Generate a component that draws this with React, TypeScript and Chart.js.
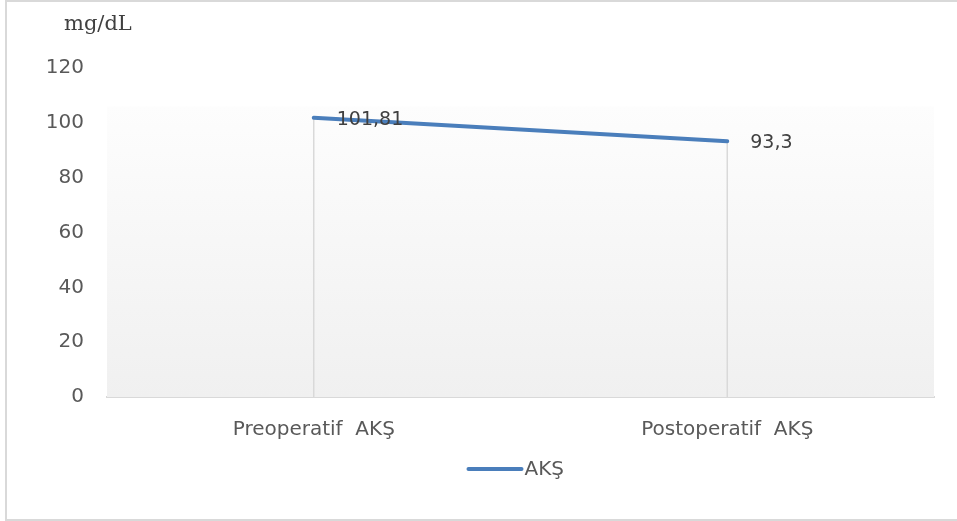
import React, { useEffect, useRef } from "react";
import { Chart, registerables } from "chart.js";

Chart.register(...registerables);

const categories = ["Preoperatif  AKŞ", "Postoperatif  AKŞ"];
const seriesName = "AKŞ";
const values = [101.81, 93.3];
const valueLabels = ["101,81", "93,3"];
const yTicks = [0, 20, 40, 60, 80, 100, 120];
const unitLabel = "mg/dL";

const LINE_COLOR = "#4a7ebb";
const TEXT_COLOR = "#595959";
const FONT = "'DejaVu Sans', sans-serif";

export default function App() {
  const ref = useRef<HTMLCanvasElement | null>(null);

  useEffect(() => {
    const canvas = ref.current;
    if (!canvas) return;

    const decor = {
      id: "decor",
      beforeDraw(chart: any) {
        const ctx = chart.ctx;
        ctx.save();
        ctx.fillStyle = "#ffffff";
        ctx.fillRect(0, 0, chart.width, chart.height);
        ctx.strokeStyle = "#d9d9d9";
        ctx.lineWidth = 2;
        ctx.strokeRect(6, 1, chart.width + 10, chart.height - 2);
        ctx.restore();
      },
      beforeDatasetsDraw(chart: any) {
        const { ctx, chartArea } = chart;
        const y = chart.scales.y;
        const top = y.getPixelForValue(106);
        ctx.save();
        const g = ctx.createLinearGradient(0, top, 0, chartArea.bottom);
        g.addColorStop(0, "#fdfdfd");
        g.addColorStop(1, "#f0f0f0");
        ctx.fillStyle = g;
        ctx.fillRect(chartArea.left, top, chartArea.right - chartArea.left, chartArea.bottom - top);
        // drop lines
        const meta = chart.getDatasetMeta(0);
        ctx.strokeStyle = "#d9d9d9";
        ctx.lineWidth = 1.5;
        meta.data.forEach((pt: any) => {
          ctx.beginPath();
          ctx.moveTo(pt.x, pt.y);
          ctx.lineTo(pt.x, chartArea.bottom);
          ctx.stroke();
        });
        ctx.restore();
      },
      afterDatasetsDraw(chart: any) {
        const { ctx, chartArea } = chart;
        const meta = chart.getDatasetMeta(0);
        ctx.save();
        ctx.fillStyle = "#404040";
        ctx.font = `19px ${FONT}`;
        ctx.textAlign = "left";
        ctx.textBaseline = "middle";
        meta.data.forEach((pt: any, i: number) => {
          ctx.fillText(valueLabels[i], pt.x + 23, pt.y + 2);
        });
        // unit label
        ctx.fillStyle = "#404040";
        ctx.font = "21px 'DejaVu Serif', serif";
        ctx.textAlign = "left";
        ctx.fillText(unitLabel, chartArea.left - 43, 25);
        // legend
        const cx = (chartArea.left + chartArea.right) / 2;
        const ly = 469;
        ctx.strokeStyle = LINE_COLOR;
        ctx.lineWidth = 4;
        ctx.lineCap = "round";
        ctx.beginPath();
        ctx.moveTo(cx - 52, ly);
        ctx.lineTo(cx + 1, ly);
        ctx.stroke();
        ctx.fillStyle = TEXT_COLOR;
        ctx.font = `20px ${FONT}`;
        ctx.fillText(seriesName, cx + 4, ly + 1);
        ctx.restore();
      },
    };

    const chart = new Chart(canvas, {
      type: "line",
      data: {
        labels: categories,
        datasets: [
          {
            label: seriesName,
            data: values,
            borderColor: LINE_COLOR,
            backgroundColor: LINE_COLOR,
            borderWidth: 4,
            pointRadius: 0,
            tension: 0,
            borderCapStyle: "round",
          },
        ],
      },
      options: {
        responsive: false,
        animation: false,
        layout: { padding: { top: 68, right: 23, bottom: 0, left: 0 } },
        plugins: {
          legend: { display: false },
          tooltip: { enabled: false },
          title: { display: false },
        },
        scales: {
          x: {
            offset: true,
            grid: { display: false, drawTicks: false },
            border: { display: true, color: "#d9d9d9", width: 2 },
            ticks: {
              color: TEXT_COLOR,
              font: { family: FONT, size: 20 },
              padding: 21,
              maxRotation: 0,
            },
            afterFit(scale: any) {
              scale.height = 124;
            },
          },
          y: {
            min: 0,
            max: 120,
            grid: { display: false, drawTicks: false },
            border: { display: false },
            afterBuildTicks(scale: any) {
              scale.ticks = yTicks.map((v) => ({ value: v }));
            },
            ticks: {
              color: TEXT_COLOR,
              font: { family: FONT, size: 20 },
              padding: 23,
            },
            afterFit(scale: any) {
              scale.width = 107;
            },
          },
        },
      },
      plugins: [decor],
    });

    return () => chart.destroy();
  }, []);

  return (
    <div style={{ position: "fixed", left: 0, top: 0, width: 957, height: 521 }}>
      <canvas ref={ref} width={957} height={521} style={{ display: "block" }} />
    </div>
  );
}
